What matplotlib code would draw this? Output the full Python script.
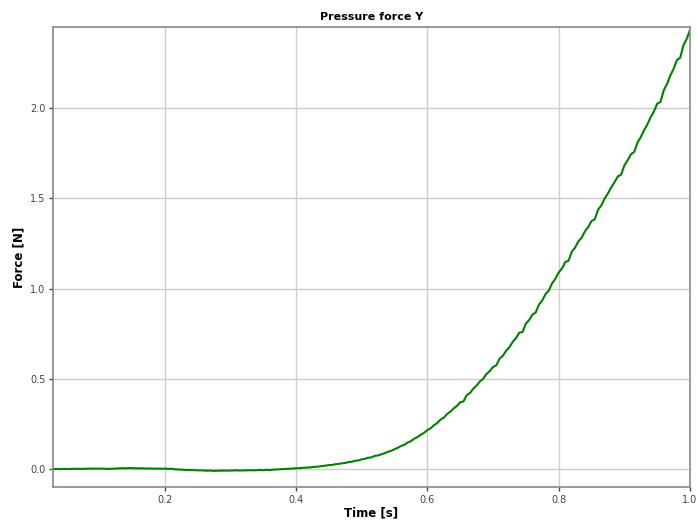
import numpy as np
import matplotlib
matplotlib.use("Agg")
import matplotlib.pyplot as plt

# Pressure force (Y component) sampled every 5 ms from t = 0.030 s to t = 1.000 s
force = [
    0.000, 0.001, 0.000, 0.001, 0.001, 0.000, 0.002, 0.001, 0.002, 0.001,
    0.002, 0.003, 0.002, 0.003, 0.002, 0.003, 0.002, 0.001, 0.002, 0.003,
    0.004, 0.005, 0.004, 0.006, 0.005, 0.005, 0.004, 0.005, 0.003, 0.004,
    0.003, 0.002, 0.003, 0.002, 0.003, 0.001, 0.002, -0.001, -0.002, -0.003,
    -0.004, -0.005, -0.005, -0.006, -0.007, -0.007, -0.008, -0.009, -0.008, -0.010,
    -0.009, -0.009, -0.008, -0.009, -0.008, -0.008, -0.007, -0.008, -0.007, -0.007,
    -0.006, -0.007, -0.006, -0.005, -0.006, -0.004, -0.005, -0.003, -0.002, -0.001,
    0.000, 0.001, 0.002, 0.003, 0.005, 0.005, 0.007, 0.008, 0.009, 0.011,
    0.013, 0.014, 0.017, 0.019, 0.022, 0.023, 0.027, 0.029, 0.032, 0.034,
    0.039, 0.041, 0.046, 0.048, 0.054, 0.057, 0.063, 0.065, 0.073, 0.076,
    0.082, 0.088, 0.096, 0.101, 0.110, 0.118, 0.128, 0.135, 0.147, 0.155,
    0.168, 0.178, 0.190, 0.201, 0.216, 0.226, 0.243, 0.255, 0.274, 0.285,
    0.305, 0.318, 0.336, 0.350, 0.370, 0.375, 0.410, 0.422, 0.446, 0.463,
    0.486, 0.500, 0.527, 0.543, 0.566, 0.575, 0.612, 0.628, 0.656, 0.676,
    0.705, 0.726, 0.756, 0.760, 0.806, 0.826, 0.856, 0.868, 0.912, 0.935,
    0.970, 0.990, 1.030, 1.055, 1.090, 1.112, 1.148, 1.155, 1.205, 1.228,
    1.262, 1.283, 1.318, 1.342, 1.375, 1.385, 1.438, 1.462, 1.500, 1.528,
    1.562, 1.590, 1.622, 1.632, 1.683, 1.712, 1.745, 1.758, 1.810, 1.840,
    1.878, 1.910, 1.950, 1.982, 2.025, 2.035, 2.100, 2.135, 2.182, 2.218,
    2.268, 2.280, 2.350, 2.385, 2.435,
]
t_start, t_step = 0.030, 0.005
time = t_start + t_step * np.arange(len(force))

x_ticks = [0.2, 0.4, 0.6, 0.8, 1.0]
y_ticks = [0.0, 0.5, 1.0, 1.5, 2.0]

fig = plt.figure(figsize=(6.97, 5.21), dpi=100)
ax = fig.add_axes([0.076, 0.065, 0.914, 0.883])

ax.plot(time, force, color="green", linewidth=1.5)

ax.set_xlim(0.03, 1.0)
ax.set_ylim(-0.1, 2.45)
ax.set_xticks(x_ticks)
ax.set_yticks(y_ticks)
ax.set_xticklabels([f"{v:.1f}" for v in x_ticks])
ax.set_yticklabels([f"{v:.1f}" for v in y_ticks])

ax.grid(True, color="#cccccc", linewidth=1.0)
ax.set_axisbelow(True)
for s in ax.spines.values():
    s.set_color("#888888")
    s.set_linewidth(1.2)
ax.tick_params(colors="#444444", labelsize=7, length=3, width=1, pad=2.5)

ax.set_title("Pressure force Y", fontsize=8, fontweight="bold", pad=5)
ax.set_xlabel("Time [s]", fontsize=8.5, fontweight="bold", labelpad=1.5)
ax.set_ylabel("Force [N]", fontsize=8.5, fontweight="bold", labelpad=3)

fig.savefig("out.png", dpi=100)
